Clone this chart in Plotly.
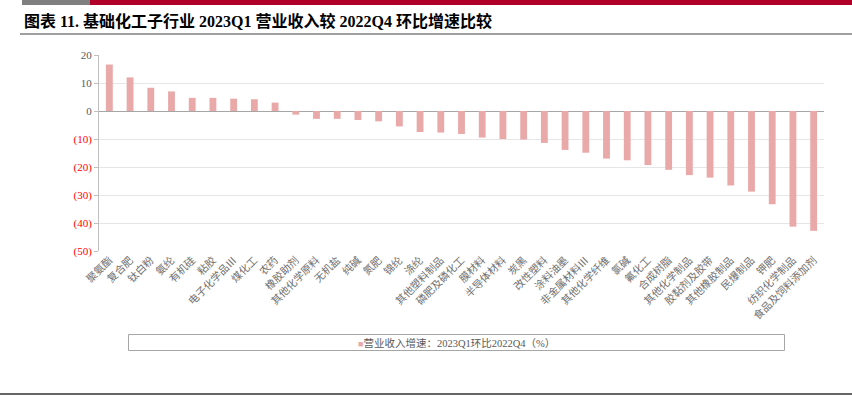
import plotly.graph_objects as go

categories = ["聚氨酯", "复合肥", "钛白粉", "氨纶", "有机硅", "粘胶", "电子化学品Ⅲ", "煤化工", "农药",
              "橡胶助剂", "其他化学原料", "无机盐", "纯碱", "氮肥", "锦纶", "涤纶", "其他塑料制品",
              "磷肥及磷化工", "膜材料", "半导体材料", "炭黑", "改性塑料", "涂料油墨", "非金属材料Ⅲ",
              "其他化学纤维", "氯碱", "氟化工", "合成树脂", "其他化学制品", "胶黏剂及胶带",
              "其他橡胶制品", "民爆制品", "钾肥", "纺织化学制品", "食品及饲料添加剂"]
growth = [16.6, 12.0, 8.3, 7.0, 4.7, 4.7, 4.4, 4.2, 3.0,
          -1.3, -2.8, -2.8, -3.2, -3.7, -5.5, -7.5, -7.7,
          -8.2, -9.5, -10.0, -10.2, -11.4, -13.9, -14.9,
          -17.0, -17.6, -19.3, -21.0, -22.9, -23.8, -26.6,
          -28.8, -33.3, -41.3, -42.8]
tick_vals = [20, 10, 0, -10, -20, -30, -40, -50]
series_name = "营业收入增速：2023Q1环比2022Q4（%）"
title_text = "图表 11. 基础化工子行业 2023Q1 营业收入较 2022Q4 环比增速比较"
bar_color = "#E9A9A9"

def fmt(v):
    if v < 0:
        return '<span style="color:#FF0000">(%d)</span>' % (-v)
    return str(v)

tick_text = [fmt(v) for v in tick_vals]

fig = go.Figure()
fig.add_trace(go.Bar(
    x=categories, y=growth, name=series_name,
    marker=dict(color=bar_color, line=dict(width=0)),
    width=0.33, showlegend=False,
))

W, H = 852, 397
L, R, T, B = 99, 28, 55, 146
pw, ph = W - L - R, H - T - B

def px(x):
    return (x - L) / pw

def py(y):
    return (H - B - y) / ph

fig.update_layout(
    width=W, height=H,
    margin=dict(l=L, r=R, t=T, b=B),
    paper_bgcolor="white", plot_bgcolor="white",
    font=dict(family="Liberation Serif, Noto Sans CJK SC", color="#595959"),
    showlegend=False,
    xaxis=dict(tickangle=-45, tickfont=dict(size=10.5, color="#707070",
               family="Noto Sans CJK SC"),
               showgrid=False, showline=False, ticks="", zeroline=False, automargin=False),
    yaxis=dict(range=[-50, 20], tickvals=tick_vals, ticktext=tick_text,
               tickfont=dict(size=11, color="#595959", family="Liberation Serif"),
               showgrid=True, gridcolor="#E6E6E6", gridwidth=1,
               zeroline=True, zerolinecolor="#A6A6A6", zerolinewidth=1,
               showline=True, linecolor="#BFBFBF", linewidth=1,
               ticks="outside", ticklen=4, tickcolor="#BFBFBF", automargin=False),
    shapes=[
        dict(type="rect", xref="paper", yref="paper", x0=px(22), x1=px(90), y0=py(0), y1=py(5),
             fillcolor="#7F7F7F", line=dict(width=0)),
        dict(type="rect", xref="paper", yref="paper", x0=px(90), x1=px(852), y0=py(0), y1=py(5),
             fillcolor="#B0002A", line=dict(width=0)),
        dict(type="line", xref="paper", yref="paper", x0=px(20), x1=px(852), y0=py(34), y1=py(34),
             line=dict(color="#A0A0A0", width=2)),
        dict(type="line", xref="paper", yref="paper", x0=px(0), x1=px(852), y0=py(394), y1=py(394),
             line=dict(color="#333333", width=1.5)),
        dict(type="rect", xref="paper", yref="paper", x0=px(128.5), x1=px(784.5), y0=py(334.5), y1=py(350.5),
             line=dict(color="#A6A6A6", width=1), fillcolor="rgba(0,0,0,0)"),
    ],
    annotations=[
        dict(text="<b>" + title_text + "</b>", xref="paper", yref="paper", x=px(22), y=py(20.5),
             xanchor="left", yanchor="middle", showarrow=False,
             font=dict(size=16, color="#000000", family="Liberation Serif, Noto Sans CJK SC")),
        dict(text='<span style="color:%s;font-size:9px">■</span>%s' % (bar_color, series_name),
             xref="paper", yref="paper", x=px(456), y=py(342.5),
             xanchor="center", yanchor="middle", showarrow=False,
             font=dict(size=10.5, color="#595959", family="Liberation Serif, Noto Sans CJK SC")),
    ],
)

fig.write_html("out.html", config={"displayModeBar": False},
               post_script="document.body.style.margin='0';")
